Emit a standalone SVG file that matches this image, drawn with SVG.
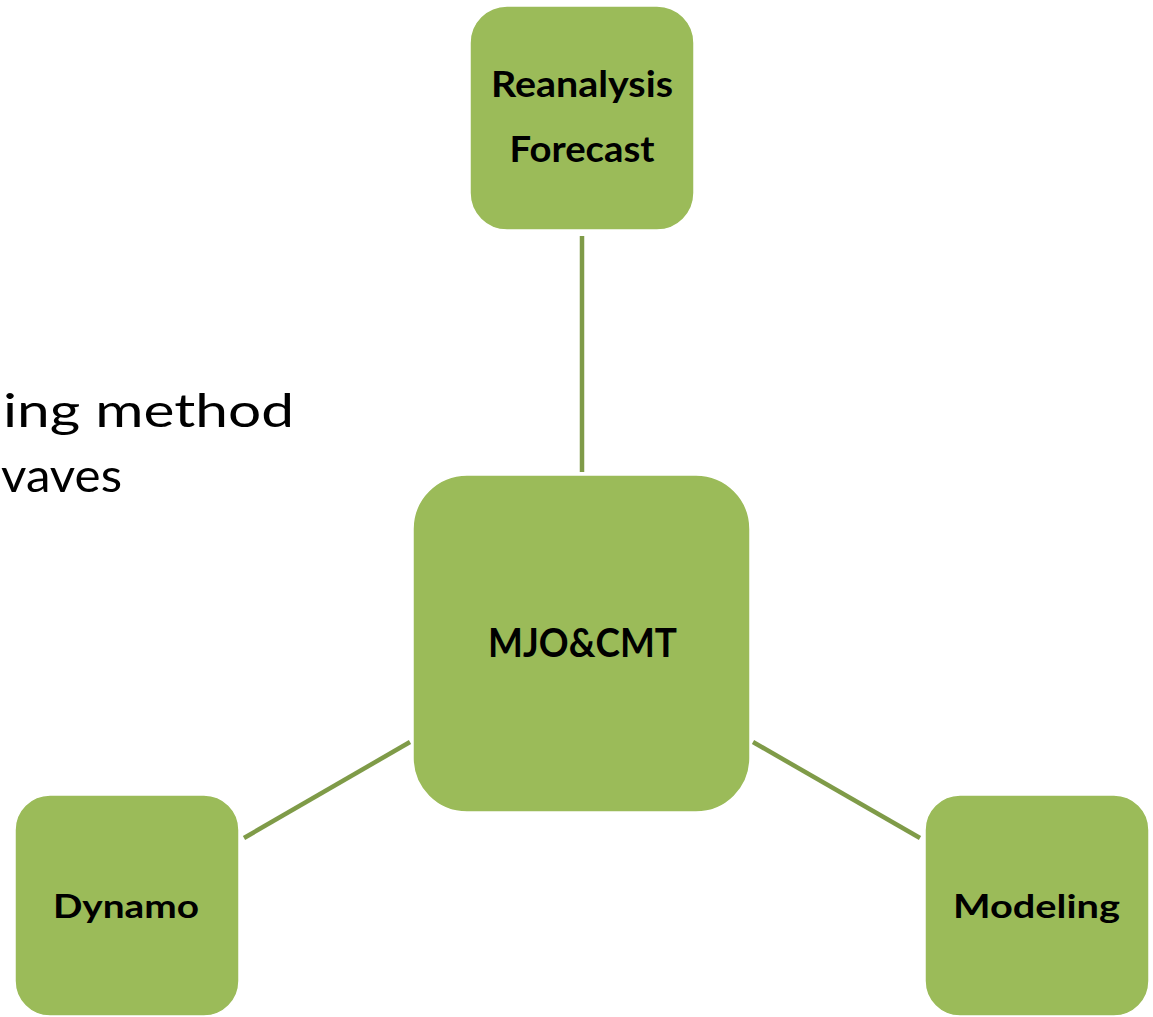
<svg xmlns="http://www.w3.org/2000/svg" width="1153" height="1017" viewBox="0 0 1153 1017">
  <style>
    .node { fill: #9BBB59; stroke: #FFFFFF; stroke-width: 1.5; }
    .label { font-family: Lato, "Open Sans", "Liberation Sans", sans-serif; font-weight: bold; fill: #000000; text-anchor: middle; }
    .conn { stroke: #7F9B48; stroke-width: 4.5; fill: none; }
    .body { font-family: Lato, "Open Sans", "Liberation Sans", sans-serif; font-size: 47px; fill: #000000; }
  </style>
  <rect width="1153" height="1017" fill="#FFFFFF"/>
  <g id="background-text">
    <text class="body" x="3" y="427" textLength="291" lengthAdjust="spacingAndGlyphs">ing method</text>
    <text class="body" x="1" y="492" textLength="121" lengthAdjust="spacingAndGlyphs">vaves</text>
  </g>
  <g id="connectors">
    <line class="conn" x1="582" y1="236" x2="582" y2="472"/>
    <line class="conn" x1="244" y1="838" x2="410" y2="742"/>
    <line class="conn" x1="753" y1="742" x2="920" y2="838"/>
  </g>
  <g id="node-reanalysis">
    <rect class="node" x="470" y="6" width="224" height="224" rx="37" ry="37"/>
    <text class="label" x="582" y="97" font-size="36" textLength="182" lengthAdjust="spacingAndGlyphs">Reanalysis</text>
    <text class="label" x="582" y="162" font-size="36" textLength="145" lengthAdjust="spacingAndGlyphs">Forecast</text>
  </g>
  <g id="node-mjo">
    <rect class="node" x="413" y="475" width="337" height="337" rx="54" ry="54"/>
    <text class="label" x="582.5" y="657" font-size="40" textLength="189" lengthAdjust="spacingAndGlyphs">MJO&amp;CMT</text>
  </g>
  <g id="node-dynamo">
    <rect class="node" x="15" y="795" width="224" height="221" rx="35" ry="35"/>
    <text class="label" x="126" y="918" font-size="33" textLength="146" lengthAdjust="spacingAndGlyphs">Dynamo</text>
  </g>
  <g id="node-modeling">
    <rect class="node" x="925" y="795" width="224" height="221" rx="35" ry="35"/>
    <text class="label" x="1036.5" y="918" font-size="33" textLength="167" lengthAdjust="spacingAndGlyphs">Modeling</text>
  </g>
</svg>
